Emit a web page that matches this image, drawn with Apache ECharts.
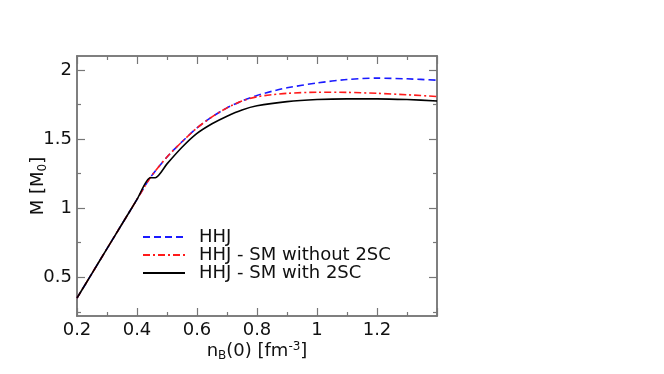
<!DOCTYPE html>
<html>
<head>
<meta charset="utf-8">
<script src="https://cdn.jsdelivr.net/npm/echarts@6/dist/echarts.min.js"></script>
<style>
  html, body { margin: 0; padding: 0; background: #fff; }
  #chart { width: 664px; height: 374px; }
</style>
</head>
<body>
<div id="chart"></div>
<script>
// data: baryon density n_B(0) [fm^-3] vs mass [M_0]
var hhjN   = [0.20, 0.25, 0.30, 0.35, 0.40, 0.444, 0.50, 0.55, 0.60, 0.65, 0.70, 0.75, 0.80, 0.85, 0.90, 1.00, 1.10, 1.20, 1.30, 1.40];
var hhjM   = [0.35, 0.528, 0.707, 0.885, 1.063, 1.22, 1.37, 1.48, 1.58, 1.66, 1.725, 1.775, 1.815, 1.845, 1.87, 1.905, 1.93, 1.94, 1.935, 1.925];

var noScN  = [0.20, 0.25, 0.30, 0.35, 0.40, 0.444, 0.50, 0.55, 0.60, 0.65, 0.70, 0.75, 0.80, 0.85, 0.90, 1.00, 1.10, 1.20, 1.30, 1.40];
var noScM  = [0.35, 0.528, 0.707, 0.885, 1.063, 1.22, 1.37, 1.48, 1.58, 1.66, 1.725, 1.775, 1.805, 1.82, 1.83, 1.838, 1.837, 1.83, 1.82, 1.807];

var scN    = [0.20, 0.25, 0.30, 0.35, 0.40, 0.444, 0.461, 0.50, 0.55, 0.60, 0.65, 0.70, 0.75, 0.80, 0.90, 1.00, 1.10, 1.20, 1.30, 1.40];
var scM    = [0.35, 0.528, 0.707, 0.885, 1.063, 1.22, 1.22, 1.32, 1.44, 1.54, 1.61, 1.665, 1.71, 1.74, 1.77, 1.785, 1.79, 1.79, 1.785, 1.775];

var xMajor = [0.2, 0.4, 0.6, 0.8, 1.0, 1.2, 1.4];
var xMinor = [0.3, 0.5, 0.7, 0.9, 1.1, 1.3];
var xLabels = [0.2, 0.4, 0.6, 0.8, 1.0, 1.2];
var yMajor = [0.5, 1.0, 1.5, 2.0];
var yMinor = [0.25, 0.75, 1.25, 1.75];

var seriesNames = ['HHJ', 'HHJ - SM without 2SC', 'HHJ - SM with 2SC'];

function pairs(xs, ys) {
  var out = [];
  for (var i = 0; i < xs.length; i++) out.push([xs[i], ys[i]]);
  return out;
}

var axisGray = '#777';
var font = 'DejaVu Sans';

function xAx(pos, ticks, len, labels, extra) {
  var a = {
    type: 'value', position: pos, min: 0.2, max: 1.4,
    splitLine: { show: false },
    axisLine: { show: true, onZero: false, lineStyle: { color: axisGray, width: 1.5 } },
    axisTick: { show: true, inside: true, length: len, customValues: ticks, lineStyle: { color: axisGray, width: 1.2 } },
    axisLabel: labels ? {
      show: true, customValues: labels, margin: 5, color: '#111', fontFamily: font, fontSize: 18,
      formatter: function (v) { return String(+v.toFixed(1)); }
    } : { show: false }
  };
  return Object.assign(a, extra || {});
}

function yAx(pos, ticks, len, labels, extra) {
  var a = {
    type: 'value', position: pos, min: 0.22, max: 2.1,
    splitLine: { show: false },
    axisLine: { show: true, onZero: false, lineStyle: { color: axisGray, width: 1.5 } },
    axisTick: { show: true, inside: true, length: len, customValues: ticks, lineStyle: { color: axisGray, width: 1.2 } },
    axisLabel: labels ? {
      show: true, customValues: labels, margin: 5, color: '#111', fontFamily: font, fontSize: 18,
      formatter: function (v) { return String(+v.toFixed(2)); }
    } : { show: false }
  };
  return Object.assign(a, extra || {});
}

var option = {
  animation: false,
  backgroundColor: '#fff',
  grid: { left: 77, top: 56, right: 227, bottom: 58, containLabel: false },
  legend: {
    orient: 'vertical',
    left: 137, top: 223,
    itemWidth: 42, itemHeight: 12, itemGap: 0,
    data: seriesNames,
    itemStyle: { opacity: 0 },
    textStyle: { fontFamily: font, fontSize: 18, color: '#111', lineHeight: 16, padding: [0, 0, 0, 9] }
  },
  xAxis: [
    xAx('bottom', xMajor, 8, xLabels, {
      name: '{t|n}{s|B}{t|(0) [fm}{p|-3}{t|]}',
      nameLocation: 'middle', nameGap: 24, nameMoveOverlap: false,
      nameTextStyle: {
        rich: {
          t: { fontFamily: font, fontSize: 18, color: '#111' },
          s: { fontFamily: font, fontSize: 12, color: '#111', padding: [10, 0, 0, 0] },
          p: { fontFamily: font, fontSize: 12, color: '#111', padding: [0, 0, 9, 0] }
        }
      }
    }),
    xAx('bottom', xMinor, 4, null),
    xAx('top', xMajor, 8, null),
    xAx('top', xMinor, 4, null)
  ],
  yAxis: [
    yAx('left', yMajor, 8, yMajor, {
      name: '{t|M [M}{s|0}{t|]}',
      nameLocation: 'middle', nameGap: 28, nameRotate: 90, nameMoveOverlap: false,
      nameTextStyle: {
        rich: {
          t: { fontFamily: font, fontSize: 18, color: '#111' },
          s: { fontFamily: font, fontSize: 12, color: '#111', padding: [10, 0, 0, 0] }
        }
      }
    }),
    yAx('left', yMinor, 4, null),
    yAx('right', yMajor, 8, null),
    yAx('right', yMinor, 4, null)
  ],
  series: [
    {
      name: seriesNames[0], type: 'line', data: pairs(hhjN, hhjM),
      symbol: 'none', smooth: 0.25, z: 2,
      lineStyle: { color: '#1a1aff', width: 1.6, type: [7, 4] },
      itemStyle: { color: '#1a1aff' }
    },
    {
      name: seriesNames[1], type: 'line', data: pairs(noScN, noScM),
      symbol: 'none', smooth: 0.25, z: 3,
      lineStyle: { color: '#ff1a1a', width: 1.6, type: [7, 3, 2, 3] },
      itemStyle: { color: '#ff1a1a' }
    },
    {
      name: seriesNames[2], type: 'line', data: pairs(scN, scM),
      symbol: 'none', smooth: 0.25, z: 4,
      lineStyle: { color: '#000', width: 1.6 },
      itemStyle: { color: '#000' }
    }
  ]
};

var chart = echarts.init(document.getElementById('chart'));
chart.setOption(option);
</script>
</body>
</html>
